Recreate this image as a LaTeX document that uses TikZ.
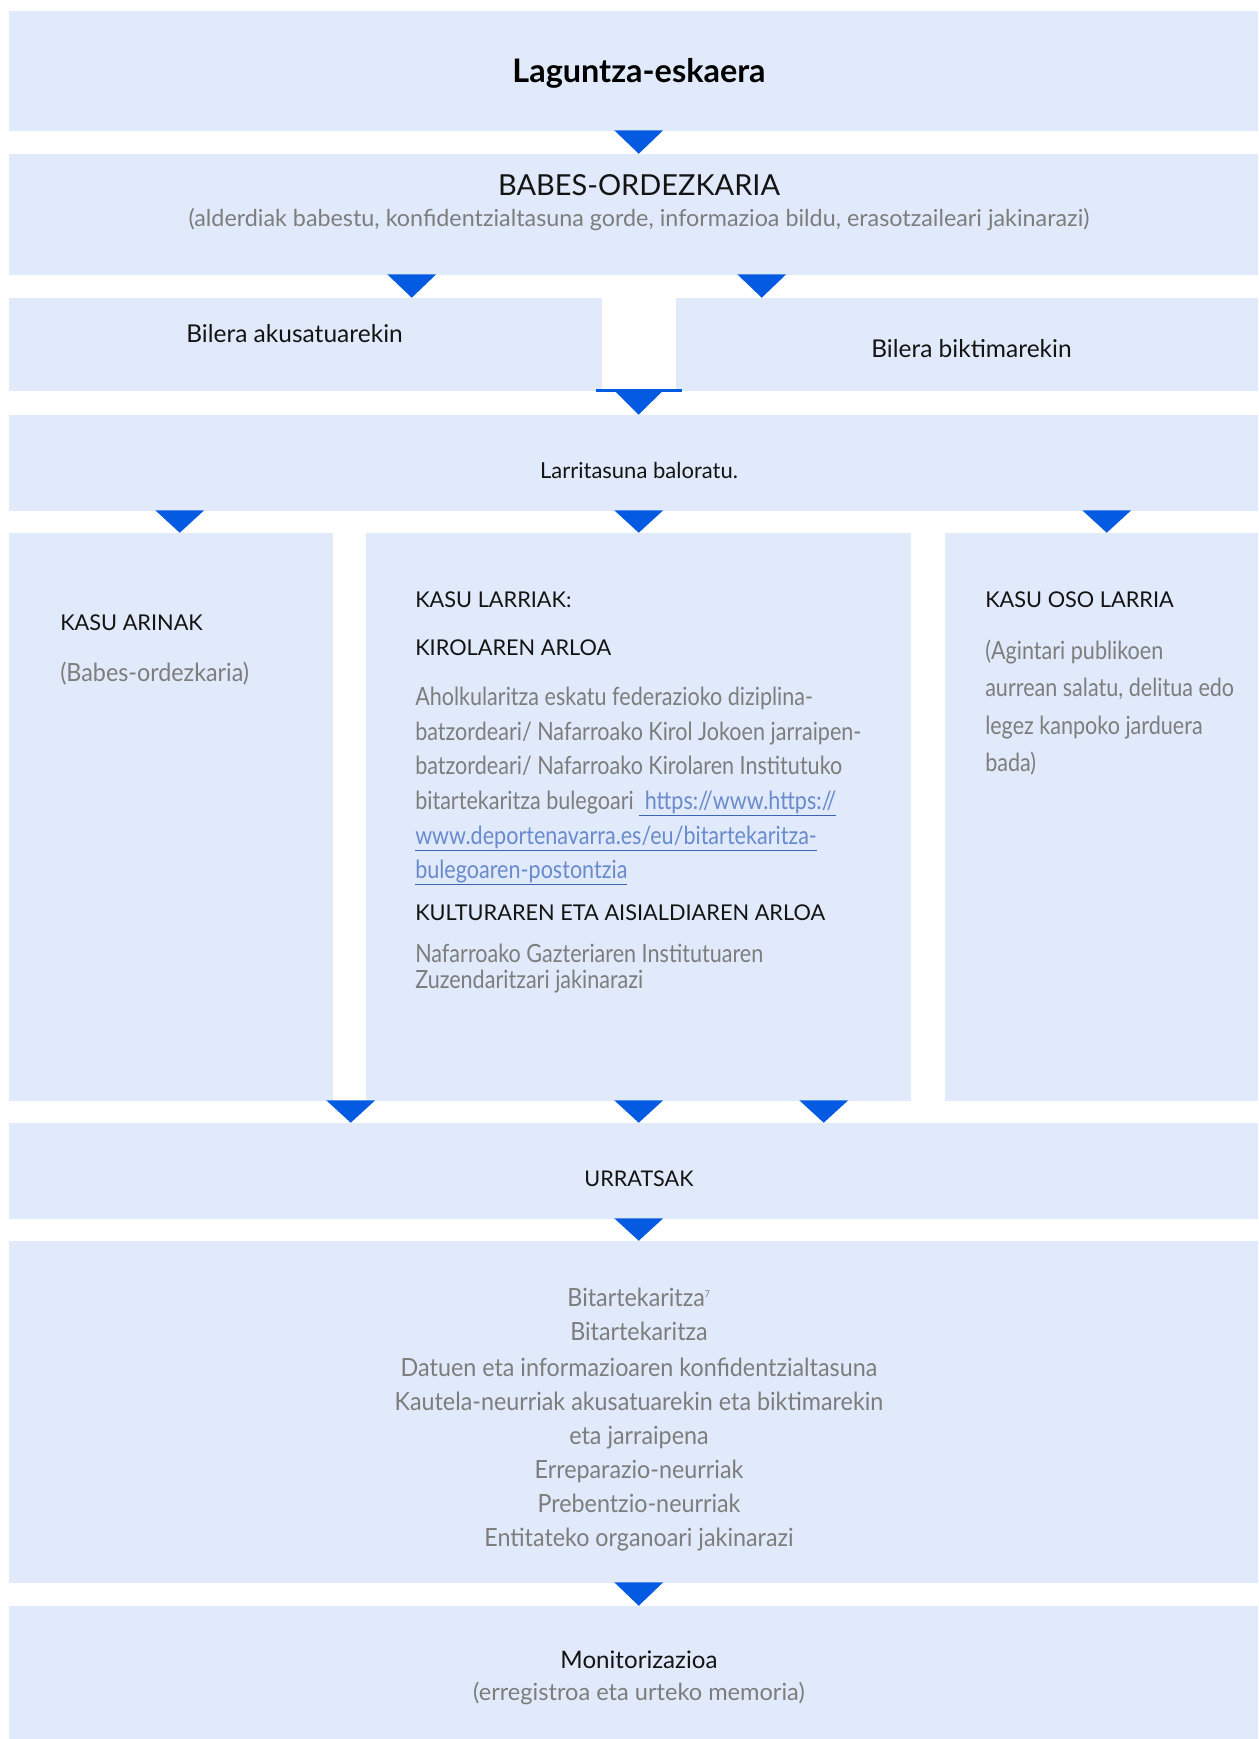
\documentclass[tikz,border=0pt]{standalone}
\usepackage{fontspec}
\setmainfont{Lato}
\newfontfamily\bodyfont{Lato}[FakeStretch=0.86]
\newfontfamily\stepfont{Lato}[FakeStretch=0.93]
\usetikzlibrary{calc,fit}
\definecolor{boxblue}{RGB}{224,234,250}
\definecolor{triblue}{RGB}{5,90,226}
\definecolor{txtgray}{RGB}{125,125,125}
\definecolor{txtdark}{RGB}{20,20,20}
\definecolor{linkblue}{RGB}{105,138,205}
\definecolor{linkline}{RGB}{60,100,180}
\newcommand{\lnk}[1]{{\color{linkline}\underline{\textcolor{linkblue}{#1}}}}
% triangle from box #1 to box #2, #3 = x offset from #1 south west
\newcommand{\tri}[3]{%
  \coordinate (tipx) at ($(#1.south west)+(#3,0)$);
  \fill[tri] ($(tipx)+(-24.5,-1)$) -- ++(49,0) -- (tipx |- #2.north) -- cycle;}
\tikzset{
  box/.style={fill=boxblue, draw=none, inner sep=0pt},
  tri/.style={fill=triblue},
  bodytxt/.style={text=txtgray, inner sep=0pt, font=\bodyfont\fontsize{18.8}{22}\selectfont},
  steptxt/.style={text=txtgray, inner sep=0pt, font=\stepfont\fontsize{18.8}{22}\selectfont},
  headtxt/.style={text=txtdark, inner sep=0pt, font=\fontsize{16.3}{19}\selectfont},
}
\begin{document}
\begin{tikzpicture}[x=0.75pt,y=-0.75pt]
\useasboundingbox (0,0) rectangle (1258,1739);
% boxes
\node[box, fit={(9,11) (1258,131)}] (ask) {};
\node[box, fit={(9,154) (1258,275)}] (babes) {};
\node[box, fit={(9,298) (602,391)}] (akus) {};
\node[box, fit={(676,298) (1258,391)}] (bikt) {};
\node[box, fit={(9,415) (1258,511)}] (larr) {};
\node[box, fit={(9,533) (333,1101)}] (arin) {};
\node[box, fit={(366,533) (911,1101)}] (larri) {};
\node[box, fit={(945,533) (1258,1101)}] (oso) {};
\node[box, fit={(9,1123) (1258,1219)}] (urr) {};
\node[box, fit={(9,1241) (1258,1583)}] (steps) {};
\node[box, fit={(9,1606) (1258,1739)}] (mon) {};

% connectors
\tri{ask}{babes}{630}
\tri{babes}{akus}{403}
\tri{babes}{bikt}{753}
\draw[triblue, line width=2.25pt] ($(akus.south east)+(-6,-0.5)$) -- ($(bikt.south west)+(6,-0.5)$);
\tri{akus}{larr}{630}
\tri{larr}{arin}{171}
\tri{larr}{larri}{630}
\tri{larr}{oso}{1098}
\tri{arin}{urr}{342}
\tri{larri}{urr}{273}
\tri{larri}{urr}{458}
\tri{urr}{steps}{630}
\tri{steps}{mon}{630}

% texts
\node[inner sep=0pt, anchor=base, text=black, font=\fontsize{24.3}{28}\selectfont\bfseries] (asktxt) at (639,82) {Laguntza-eskaera};
\node[headtxt, anchor=base, font=\fontsize{21.7}{25}\selectfont] (babestxt) at (639,195) {BABES-ORDEZKARIA};
\node[text=txtgray, inner sep=0pt, anchor=base, font=\fontsize{17.5}{21}\selectfont] (babessub) at (639,226) {(alderdiak babestu, konfidentzialtasuna gorde, informazioa bildu, erasotzaileari jakinarazi)};
\node[headtxt, anchor=base west, font=\fontsize{18.4}{22}\selectfont] (akustxt) at (186,342) {Bilera akusatuarekin};
\node[headtxt, anchor=base west, font=\fontsize{18.4}{22}\selectfont] (bikttxt) at (871,357) {Bilera biktimarekin};
\node[headtxt, anchor=base, font=\fontsize{16.5}{20}\selectfont] (larrtxt) at (639,478) {Larritasuna baloratu.};

\node[headtxt, anchor=base west] (arinh) at (60,630) {KASU ARINAK};
\node[steptxt, anchor=base west] (arinb) at (60,681) {(Babes-ordezkaria)};

\node[headtxt, anchor=base west] (larrih) at (415,607) {KASU LARRIAK:};
\node[headtxt, anchor=base west] (kirolh) at (415,655) {KIROLAREN ARLOA};
\foreach \yy/\tx [count=\i] in {
    705/{Aholkularitza eskatu federazioko diziplina-},
    740/{batzordeari/ Nafarroako Kirol Jokoen jarraipen-},
    774/{batzordeari/ Nafarroako Kirolaren Institutuko},
    809/{bitartekaritza bulegoari \lnk{\ https://www.https://}},
    844/{\lnk{www.deportenavarra.es/eu/bitartekaritza-}},
    878/{\lnk{bulegoaren-postontzia}}}
  \node[bodytxt, anchor=base west] (kirol\i) at (415,\yy) {\tx};
\node[headtxt, anchor=base west] (kulth) at (415,920) {KULTURAREN ETA AISIALDIAREN ARLOA};
\node[bodytxt, anchor=base west] (kult1) at (415,962) {Nafarroako Gazteriaren Institutuaren};
\node[bodytxt, anchor=base west] (kult2) at (415,988) {Zuzendaritzari jakinarazi};

\node[headtxt, anchor=base west] (osoh) at (985,607) {KASU OSO LARRIA};
\foreach \yy/\tx [count=\i] in {
    659/{(Agintari publikoen},
    696/{aurrean salatu, delitua edo},
    734/{legez kanpoko jarduera},
    771/{bada)}}
  \node[bodytxt, anchor=base west] (oso\i) at (985,\yy) {\tx};

\node[headtxt, anchor=base, font=\fontsize{16.2}{20}\selectfont] (urrtxt) at (639,1186) {URRATSAK};
\foreach \yy/\tx [count=\i] in {
    1306/{Bitartekaritza\textsuperscript{\scriptsize 7}},
    1340/{Bitartekaritza},
    1376/{Datuen eta informazioaren konfidentzialtasuna},
    1410/{Kautela-neurriak akusatuarekin eta biktimarekin},
    1444/{eta jarraipena},
    1478/{Erreparazio-neurriak},
    1512/{Prebentzio-neurriak},
    1546/{Entitateko organoari jakinarazi}}
  \node[steptxt, anchor=base] (step\i) at (639,\yy) {\tx};

\node[headtxt, anchor=base, font=\fontsize{18.1}{22}\selectfont] (montxt) at (639,1668) {Monitorizazioa};
\node[text=txtgray, inner sep=0pt, anchor=base, font=\fontsize{17.7}{21}\selectfont] (monsub) at (639,1700) {(erregistroa eta urteko memoria)};
\end{tikzpicture}
\end{document}
